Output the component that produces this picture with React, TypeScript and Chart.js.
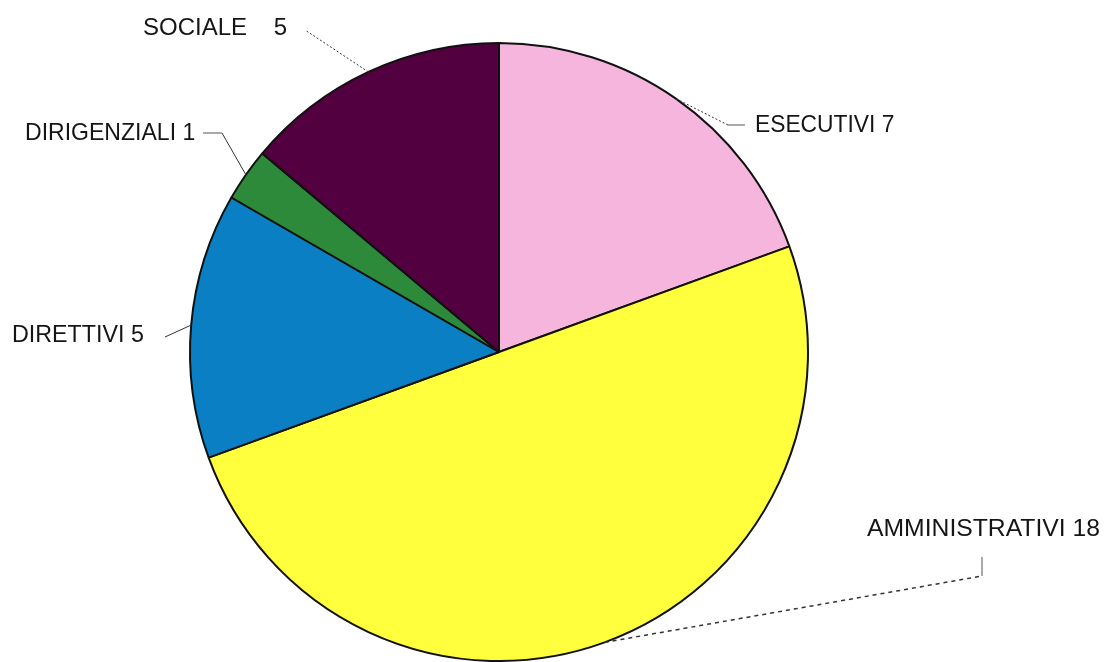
import React, { useEffect, useRef } from "react";
import { Chart, registerables } from "chart.js";

Chart.register(...registerables);

const categories = ["ESECUTIVI", "AMMINISTRATIVI", "DIRETTIVI", "DIRIGENZIALI", "SOCIALE"];
const values = [7, 18, 5, 1, 5];
const sliceColors = ["#f6b5dd", "#ffff3e", "#0b7fc3", "#2e8a3b", "#52003f"];
const labelSeparators = [" ", " ", " ", " ", "    "];

// label layout (style/positions of annotation text and leader lines)
type LabelLayout = {
  tx: number;
  ty: number;
  sx: number;
  knee: [number, number];
  end?: [number, number];
  dash: number[];
  lw: number;
};
const labelLayouts: LabelLayout[] = [
  { tx: 755, ty: 125, sx: 0.95, knee: [728, 125], end: [745, 125], dash: [2, 2], lw: 1 },
  { tx: 867, ty: 529, sx: 1.03, knee: [982, 576], end: [982, 557], dash: [4, 4], lw: 1.5 },
  { tx: 12, ty: 335, sx: 0.97, knee: [165, 337], dash: [], lw: 1 },
  { tx: 25, ty: 133, sx: 0.96, knee: [222, 133], end: [203, 133], dash: [], lw: 1 },
  { tx: 143, ty: 28, sx: 1.0, knee: [305, 30], dash: [2, 2], lw: 1 },
];

const labelPlugin = {
  id: "outerLabels",
  afterDraw(chart: any) {
    const ctx = chart.ctx as CanvasRenderingContext2D;
    const meta = chart.getDatasetMeta(0);
    meta.data.forEach((arc: any, i: number) => {
      const lay = labelLayouts[i];
      const mid = (arc.startAngle + arc.endAngle) / 2;
      const r = arc.outerRadius;
      const px = arc.x + Math.cos(mid) * r;
      const py = arc.y + Math.sin(mid) * r;
      ctx.save();
      ctx.strokeStyle = "#333";
      ctx.lineWidth = lay.lw;
      ctx.setLineDash(lay.dash);
      ctx.beginPath();
      ctx.moveTo(px, py);
      ctx.lineTo(lay.knee[0], lay.knee[1]);
      ctx.stroke();
      if (lay.end) {
        ctx.setLineDash([]);
        ctx.strokeStyle = "#555";
        ctx.lineWidth = 1;
        ctx.beginPath();
        ctx.moveTo(lay.knee[0], lay.knee[1]);
        ctx.lineTo(lay.end[0], lay.end[1]);
        ctx.stroke();
      }
      ctx.restore();

      ctx.save();
      ctx.fillStyle = "#151515";
      ctx.font = "24px 'Liberation Sans', Arial, sans-serif";
      ctx.textBaseline = "middle";
      ctx.textAlign = "left";
      ctx.translate(lay.tx, lay.ty);
      ctx.scale(lay.sx, 1);
      ctx.fillText(categories[i] + labelSeparators[i] + values[i], 0, 0);
      ctx.restore();
    });
  },
};

export default function App() {
  const ref = useRef<HTMLCanvasElement | null>(null);
  useEffect(() => {
    if (!ref.current) return;
    const chart = new Chart(ref.current, {
      type: "pie",
      data: {
        labels: categories,
        datasets: [
          {
            data: values,
            backgroundColor: sliceColors,
            borderColor: "#111",
            borderWidth: 2,
          },
        ],
      },
      options: {
        responsive: false,
        animation: false,
        layout: { padding: { top: 42, bottom: 0, left: 0, right: 111 } },
        plugins: {
          legend: { display: false },
          tooltip: { enabled: false },
        },
      },
      plugins: [labelPlugin],
    });
    return () => chart.destroy();
  }, []);
  return (
    <div style={{ position: "fixed", left: 0, top: 0, width: 1109, height: 662, background: "#fff" }}>
      <canvas ref={ref} width={1109} height={662} />
    </div>
  );
}
